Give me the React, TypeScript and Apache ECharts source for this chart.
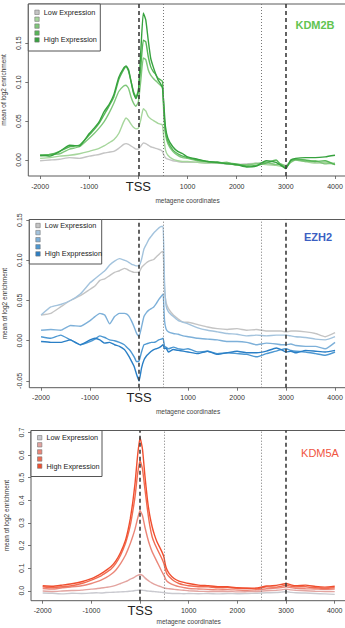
import React, { useEffect, useRef } from "react";
import * as echarts from "echarts";

// shared metagene coordinates (bp relative to TSS)
const xs = [-2000,-1800,-1600,-1400,-1200,-1000,-900,-800,-700,-600,-500,-400,-300,-250,-200,-150,-100,-50,0,50,100,150,200,250,300,350,400,450,490,520,550,600,700,800,900,1000,1200,1400,1600,1800,2000,2200,2400,2600,2800,2900,3000,3100,3200,3400,3600,3800,4000];
const xTicks = [-2000, -1000, 0, 1000, 2000, 3000, 4000];
const xAxisName = "metagene coordinates";
const yAxisName = "mean of log2 enrichment";

// KDM2B
const kdm2bLow = [-0.001,0.000,0.001,0.003,0.002,0.005,0.006,0.007,0.009,0.010,0.011,0.015,0.020,0.021,0.020,0.018,0.016,0.014,0.014,0.018,0.022,0.021,0.019,0.017,0.016,0.015,0.014,0.013,0.011,0.006,0.003,0.001,-0.001,-0.002,-0.003,-0.003,-0.003,-0.004,-0.004,-0.005,-0.006,-0.005,-0.004,-0.005,-0.006,-0.006,-0.007,-0.002,0.000,-0.001,-0.003,-0.004,-0.005];
const kdm2bQ2 = [0.002,0.003,0.005,0.006,0.008,0.011,0.013,0.015,0.018,0.022,0.026,0.034,0.049,0.054,0.051,0.046,0.042,0.040,0.041,0.052,0.066,0.063,0.056,0.053,0.051,0.049,0.047,0.046,0.045,0.027,0.013,0.006,0.001,-0.001,-0.002,-0.002,-0.003,-0.004,-0.003,-0.005,-0.006,-0.007,-0.004,-0.006,-0.007,-0.008,-0.009,-0.002,0.001,-0.002,-0.004,-0.003,-0.006];
const kdm2bQ3 = [0.005,0.007,0.008,0.014,0.017,0.028,0.034,0.041,0.049,0.060,0.073,0.088,0.095,0.096,0.092,0.081,0.073,0.069,0.075,0.103,0.131,0.129,0.116,0.109,0.105,0.102,0.099,0.096,0.093,0.056,0.034,0.021,0.011,0.006,0.003,0.002,-0.001,-0.002,-0.004,-0.003,-0.007,-0.006,-0.005,-0.003,-0.006,-0.005,-0.008,-0.003,0.000,-0.002,-0.001,-0.005,-0.004];
const kdm2bQ4 = [0.006,0.007,0.011,0.017,0.019,0.032,0.039,0.047,0.058,0.069,0.081,0.103,0.116,0.120,0.114,0.101,0.088,0.081,0.090,0.120,0.154,0.152,0.133,0.120,0.114,0.110,0.105,0.103,0.101,0.062,0.036,0.024,0.013,0.008,0.005,0.003,0.000,-0.002,-0.003,-0.004,-0.005,-0.008,-0.007,-0.004,0.000,-0.006,-0.010,-0.001,0.001,0.000,-0.002,-0.001,-0.006];
const kdm2bHigh = [0.006,0.005,0.011,0.019,0.018,0.034,0.041,0.049,0.062,0.071,0.084,0.106,0.118,0.121,0.116,0.101,0.086,0.079,0.088,0.141,0.189,0.180,0.154,0.131,0.120,0.111,0.103,0.098,0.093,0.069,0.043,0.028,0.017,0.011,0.008,0.004,0.001,-0.002,-0.003,-0.005,-0.006,-0.009,-0.008,-0.001,-0.003,-0.007,-0.011,0.000,0.002,0.003,0.003,0.004,0.006];

// EZH2
const ezh2Low = [0.032,0.034,0.042,0.050,0.056,0.064,0.068,0.075,0.077,0.081,0.085,0.087,0.090,0.089,0.087,0.086,0.085,0.085,0.085,0.091,0.094,0.097,0.099,0.100,0.101,0.104,0.107,0.110,0.111,0.064,0.048,0.040,0.032,0.027,0.023,0.023,0.020,0.017,0.015,0.014,0.015,0.013,0.014,0.012,0.012,0.012,0.011,0.012,0.012,0.011,0.009,0.005,0.010];
const ezh2Q2 = [0.032,0.042,0.045,0.050,0.058,0.072,0.077,0.082,0.087,0.094,0.099,0.102,0.100,0.099,0.097,0.095,0.094,0.093,0.093,0.101,0.114,0.120,0.126,0.130,0.134,0.137,0.140,0.142,0.142,0.073,0.044,0.036,0.030,0.025,0.023,0.021,0.016,0.013,0.011,0.009,0.008,0.006,0.007,0.006,0.007,0.007,0.007,0.006,0.005,0.004,0.002,0.001,0.005];
const ezh2Q3 = [0.013,0.014,0.013,0.019,0.018,0.025,0.030,0.034,0.032,0.021,0.030,0.034,0.034,0.033,0.030,0.024,0.017,0.009,0.005,0.017,0.030,0.035,0.038,0.040,0.042,0.046,0.051,0.055,0.058,0.025,0.015,0.011,0.009,0.008,0.006,0.005,0.003,0.002,0.001,-0.001,-0.001,-0.002,-0.005,-0.003,-0.004,-0.005,-0.005,-0.004,-0.006,-0.007,-0.007,-0.010,-0.002];
const ezh2Q4 = [0.005,0.003,0.007,0.001,-0.005,-0.001,0.002,0.006,0.004,0.001,0.000,-0.002,-0.005,-0.008,-0.011,-0.015,-0.020,-0.026,-0.025,-0.014,-0.005,-0.004,-0.003,-0.002,-0.002,-0.001,0.001,0.002,0.003,-0.007,-0.008,-0.010,-0.008,-0.010,-0.011,-0.010,-0.014,-0.013,-0.016,-0.015,-0.016,-0.017,-0.020,-0.016,-0.013,-0.011,-0.010,-0.012,-0.013,-0.014,-0.016,-0.018,-0.014];
const ezh2High = [-0.001,-0.002,-0.002,0.001,-0.005,0.001,0.003,0.001,-0.003,-0.002,-0.005,-0.007,-0.011,-0.015,-0.020,-0.026,-0.032,-0.042,-0.050,-0.034,-0.024,-0.019,-0.016,-0.013,-0.011,-0.010,-0.009,-0.007,-0.005,-0.010,-0.009,-0.014,-0.011,-0.012,-0.013,-0.014,-0.016,-0.013,-0.017,-0.015,-0.013,-0.015,-0.015,-0.013,-0.009,-0.011,-0.014,-0.013,-0.015,-0.012,-0.013,-0.014,-0.012];

// KDM5A
const kdm5aLow = [-0.010,-0.011,-0.014,-0.011,-0.012,-0.010,-0.009,-0.010,-0.008,-0.007,-0.006,-0.005,-0.004,-0.003,-0.002,-0.001,0.001,0.002,0.003,0.002,0.001,-0.001,-0.002,-0.003,-0.004,-0.005,-0.006,-0.007,-0.008,-0.009,-0.010,-0.011,-0.012,-0.012,-0.013,-0.012,-0.013,-0.012,-0.014,-0.012,-0.013,-0.012,-0.011,-0.009,-0.008,-0.006,-0.004,-0.007,-0.009,-0.010,-0.012,-0.014,-0.016];
const kdm5aQ2 = [-0.001,-0.003,-0.001,0.001,0.003,0.007,0.009,0.012,0.015,0.018,0.024,0.032,0.040,0.045,0.051,0.056,0.062,0.068,0.072,0.068,0.057,0.048,0.040,0.034,0.028,0.024,0.020,0.016,0.013,0.011,0.010,0.009,0.006,0.004,0.002,0.000,-0.002,-0.003,-0.004,-0.003,-0.005,-0.004,-0.003,0.000,0.002,0.004,0.007,0.004,0.002,0.000,-0.002,-0.003,-0.004];
const kdm5aQ3 = [0.010,0.007,0.013,0.017,0.022,0.032,0.039,0.047,0.058,0.072,0.091,0.120,0.157,0.182,0.209,0.240,0.275,0.319,0.355,0.333,0.282,0.238,0.201,0.172,0.150,0.128,0.106,0.084,0.069,0.054,0.043,0.035,0.025,0.018,0.014,0.010,0.008,0.006,0.004,0.005,0.003,0.002,0.004,0.009,0.012,0.014,0.018,0.014,0.011,0.009,0.008,0.006,0.007];
const kdm5aQ4 = [0.018,0.013,0.018,0.022,0.032,0.047,0.056,0.066,0.080,0.095,0.120,0.157,0.209,0.245,0.289,0.350,0.421,0.517,0.576,0.539,0.451,0.363,0.289,0.238,0.209,0.186,0.164,0.142,0.120,0.095,0.076,0.062,0.043,0.032,0.026,0.022,0.018,0.017,0.013,0.014,0.010,0.011,0.008,0.017,0.016,0.020,0.025,0.020,0.017,0.018,0.013,0.010,0.013];
const kdm5aHigh = [0.022,0.020,0.025,0.031,0.040,0.054,0.064,0.076,0.090,0.106,0.131,0.169,0.223,0.265,0.319,0.390,0.480,0.598,0.678,0.627,0.510,0.407,0.333,0.282,0.245,0.216,0.194,0.172,0.150,0.116,0.095,0.076,0.054,0.043,0.037,0.032,0.025,0.022,0.018,0.018,0.013,0.011,0.012,0.021,0.024,0.028,0.032,0.026,0.022,0.025,0.019,0.016,0.020];

const legendLabelsA = ["Low Expression", "", "", "", "High Expression"];
const legendLabelsB = ["Low Expression", "", "", "", "High Exppression"];

const FONT = "'Liberation Sans', Arial, Helvetica, sans-serif";

const panels = [
  {
    title: "KDM2B", titleColor: "#62c450", titleWeight: "bold", titleX: 315, titleY: 25,
    series: [kdm2bLow, kdm2bQ2, kdm2bQ3, kdm2bQ4, kdm2bHigh],
    colors: ["#c4c4c4", "#a6d69c", "#7fc77a", "#56b656", "#36a23e"],
    legendLabels: legendLabelsA,
    grid: { left: 28.3, top: 4, width: 318.5, height: 172 },
    yMin: -0.0206, yMax: 0.2005, yTicks: [0, 0.05, 0.1, 0.15], dec: 2,
    legend: { w: 72, h: 47, first: 8.3, step: 6.9 },
    xNameGap: 21,
  },
  {
    title: "EZH2", titleColor: "#3b5fc2", titleWeight: "bold", titleX: 318, titleY: 237,
    series: [ezh2Low, ezh2Q2, ezh2Q3, ezh2Q4, ezh2High],
    colors: ["#c4c4c4", "#a3c3dd", "#7db0d9", "#4d98d2", "#2a7fc6"],
    legendLabels: legendLabelsB,
    grid: { left: 29.3, top: 219.5, width: 317.5, height: 168.2 },
    yMin: -0.0584, yMax: 0.1507, yTicks: [-0.05, 0, 0.05, 0.1, 0.15], dec: 2,
    legend: { w: 72.4, h: 44.5, first: 6, step: 7.1 },
    xNameGap: 20,
  },
  {
    title: "KDM5A", titleColor: "#f0553f", titleWeight: "normal", titleX: 320, titleY: 453,
    series: [kdm5aLow, kdm5aQ2, kdm5aQ3, kdm5aQ4, kdm5aHigh],
    colors: ["#c9c9cf", "#e3a4a0", "#eb8678", "#f06c52", "#f04e2e"],
    legendLabels: legendLabelsA,
    grid: { left: 31, top: 430.5, width: 315.4, height: 170.2 },
    yMin: -0.044, yMax: 0.709, yTicks: [0, 0.1, 0.2, 0.3, 0.4, 0.5, 0.6, 0.7], dec: 1,
    legend: { w: 71, h: 46, first: 7.2, step: 7.1 },
    xNameGap: 17.5,
  },
];

function buildOption() {
  const grids: any[] = [];
  const xAxes: any[] = [];
  const yAxes: any[] = [];
  const series: any[] = [];
  const graphic: any[] = [];

  panels.forEach((p, pi) => {
    grids.push({
      left: p.grid.left, top: p.grid.top, width: p.grid.width, height: p.grid.height,
      show: true, borderColor: "#5a5a5a", borderWidth: 1, backgroundColor: "transparent",
      containLabel: false, outerBoundsMode: "none",
    });
    xAxes.push({
      type: "value", gridIndex: pi, min: -2240, max: 4240, position: "bottom",
      splitLine: { show: false },
      axisLine: { show: false, onZero: false },
      axisTick: { show: true, customValues: xTicks, length: 3, lineStyle: { color: "#555", width: 0.8 } },
      axisLabel: {
        customValues: xTicks, margin: 10, verticalAlign: "middle",
        fontSize: 7, fontFamily: FONT, color: "#333",
        formatter: (v: number) => (v === 0 ? "{tss|TSS}" : String(v)),
        rich: { tss: { fontSize: 13, fontFamily: FONT, color: "#222" } },
      },
      name: xAxisName, nameLocation: "middle", nameGap: p.xNameGap,
      nameTextStyle: { fontSize: 6.5, fontFamily: FONT, color: "#444" },
    });
    yAxes.push({
      type: "value", gridIndex: pi, min: p.yMin, max: p.yMax, position: "left",
      splitLine: { show: false },
      axisLine: { show: false, onZero: false },
      axisTick: { show: true, customValues: p.yTicks, length: 3, lineStyle: { color: "#555", width: 0.8 } },
      axisLabel: {
        customValues: p.yTicks, rotate: 90, margin: 6,
        fontSize: 7, fontFamily: FONT, color: "#333",
        formatter: (v: number) => v.toFixed(p.dec),
      },
      name: yAxisName, nameLocation: "middle", nameGap: 19, nameRotate: 90,
      nameTextStyle: { fontSize: 6.5, fontFamily: FONT, color: "#333" },
    });

    p.series.forEach((vals, si) => {
      const s: any = {
        type: "line", xAxisIndex: pi, yAxisIndex: pi,
        name: `${p.title}-${si}`,
        data: xs.map((x, i) => [x, vals[i]]),
        showSymbol: false, symbol: "none",
        smooth: 0.15,
        lineStyle: { color: p.colors[si], width: 1.4 },
        z: 2 + si,
      };
      if (si === 4) {
        s.markLine = {
          silent: true, symbol: ["none", "none"], label: { show: false },
          z: 10,
          data: [
            { xAxis: 0, lineStyle: { type: [4, 3], color: "#3c3c3c", width: 1.6 } },
            { xAxis: 3000, lineStyle: { type: [4, 3], color: "#3c3c3c", width: 1.6 } },
            { xAxis: 500, lineStyle: { type: [1, 2], color: "#777", width: 1 } },
            { xAxis: 2500, lineStyle: { type: [1, 2], color: "#777", width: 1 } },
          ],
        };
      }
      series.push(s);
    });

    // legend box
    const L = p.legend;
    const gx = p.grid.left;
    const gy = p.grid.top;
    const children: any[] = [
      { type: "rect", shape: { x: gx, y: gy, width: L.w, height: L.h }, style: { fill: "#fff", stroke: "#555", lineWidth: 1 } },
    ];
    p.colors.forEach((c, i) => {
      const cy = gy + L.first + i * L.step;
      children.push({ type: "rect", shape: { x: gx + 6.5, y: cy - 2.2, width: 4.4, height: 4.4 }, style: { fill: c, stroke: "#777", lineWidth: 0.6 } });
      if (p.legendLabels[i]) {
        children.push({
          type: "text", x: gx + 15.5, y: cy,
          style: { text: p.legendLabels[i], fill: "#222", fontSize: 7.3, fontFamily: FONT, textAlign: "left", textVerticalAlign: "middle" },
        });
      }
    });
    graphic.push({ type: "group", z: 20, children });
    graphic.push({
      type: "text", x: p.titleX, y: p.titleY, z: 20,
      style: { text: p.title, fill: p.titleColor, fontSize: 11, fontWeight: p.titleWeight, fontFamily: FONT, textAlign: "center", textVerticalAlign: "middle" },
    });
  });

  return { animation: false, backgroundColor: "#fff", grid: grids, xAxis: xAxes, yAxis: yAxes, series, graphic };
}

export default function App() {
  const ref = useRef<HTMLDivElement>(null);
  useEffect(() => {
    if (!ref.current) return;
    const chart = echarts.init(ref.current, undefined, { renderer: "svg" });
    chart.setOption(buildOption() as any);
    return () => chart.dispose();
  }, []);
  return <div ref={ref} style={{ position: "absolute", left: 0, top: 0, width: 345, height: 628 }} />;
}
